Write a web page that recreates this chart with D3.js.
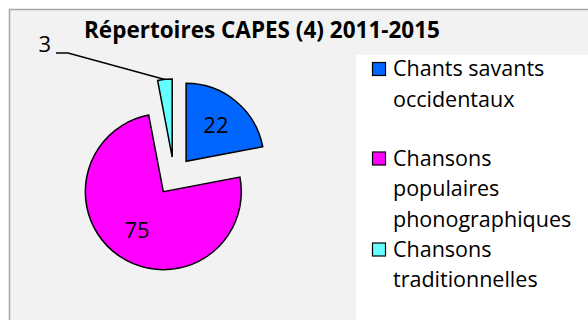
<!DOCTYPE html>
<html>
<head>
<meta charset="utf-8">
<script src="https://cdn.jsdelivr.net/npm/d3@7"></script>
<style>
  html, body { margin: 0; padding: 0; background: #ffffff; }
  svg { display: block; }
  text { font-family: "Open Sans", Lato, sans-serif; fill: #000; }
</style>
</head>
<body>
<svg id="chart" width="588" height="320"></svg>
<script>
// Répertoires CAPES (4) 2011-2015
const categories = ["Chants savants occidentaux", "Chansons populaires phonographiques", "Chansons traditionnelles"];
const legendLines = [["Chants savants", "occidentaux"], ["Chansons", "populaires", "phonographiques"], ["Chansons", "traditionnelles"]];
const values = [22, 75, 3];
const colors = ["#0066ff", "#ff00ff", "#66ffff"];
const title = "Répertoires CAPES (4) 2011-2015";

const W = 588, H = 320;
const svg = d3.select("#chart");

// chart frame
svg.append("rect").attr("x", 9.5).attr("y", 9.5).attr("width", W + 10).attr("height", H + 10)
  .attr("fill", "#f2f2f2").attr("stroke", "#a6a6a6").attr("stroke-width", 1.5);

// legend box
svg.append("rect").attr("x", 356).attr("y", 55).attr("width", W).attr("height", H)
  .attr("fill", "#ffffff");

svg.append("text").attr("x", 262).attr("y", 38).attr("text-anchor", "middle")
  .attr("font-weight", "bold").attr("font-size", 22.5).text(title);

// pie
const cx = 174, cy = 176, r = 78, explode = 19;
const pie = d3.pie().sort(null).value(d => d).startAngle(0).endAngle(2 * Math.PI);
const arcs = pie(values);
const arc = d3.arc().innerRadius(0).outerRadius(r);
const labelArc = d3.arc().innerRadius(r * 0.6).outerRadius(r * 0.6);

const g = svg.append("g").attr("transform", `translate(${cx},${cy})`);
const offset = a => {
  const m = (a.startAngle + a.endAngle) / 2;
  return [Math.sin(m) * explode, -Math.cos(m) * explode];
};

const slices = g.selectAll("g.slice").data(arcs).join("g")
  .attr("class", "slice")
  .attr("transform", d => `translate(${offset(d)})`);

slices.append("path").attr("d", arc)
  .attr("fill", (d, i) => colors[i])
  .attr("stroke", "#000").attr("stroke-width", 1.5).attr("stroke-linejoin", "miter");

// inside labels for the large slices
slices.filter(d => d.value >= 10).append("text")
  .attr("transform", d => `translate(${labelArc.centroid(d)})`)
  .attr("text-anchor", "middle").attr("dy", "0.36em")
  .attr("font-size", 22).text(d => d.value);

// outside label with leader line for the small slice
const small = arcs.filter(d => d.value < 10);
small.forEach(d => {
  const [ox, oy] = offset(d);
  const m = (d.startAngle + d.endAngle) / 2;
  const ex = ox + Math.sin(m) * r, ey = oy - Math.cos(m) * r;
  const lx = 56 - cx, ly = 53 - cy;
  g.append("path")
    .attr("d", d3.line()([[lx, ly], [lx + 12, ly], [ex, ey]]))
    .attr("fill", "none").attr("stroke", "#000").attr("stroke-width", 1.5);
  g.append("text").attr("x", lx - 5).attr("y", ly - 1).attr("text-anchor", "end")
    .attr("font-size", 22).text(d.value);
});

// legend
const legend = svg.append("g");
const entryY = [76, 165.5, 256.5];
categories.forEach((c, i) => {
  const e = legend.append("g").attr("transform", `translate(0,${entryY[i]})`);
  e.append("rect").attr("x", 372.5).attr("y", -13.5).attr("width", 13).attr("height", 13)
    .attr("fill", colors[i]).attr("stroke", "#000").attr("stroke-width", 1.2);
  legendLines[i].forEach((t, j) => {
    e.append("text").attr("x", 393).attr("y", j * 30.5).attr("font-size", 21.5).text(t);
  });
});
</script>
</body>
</html>
